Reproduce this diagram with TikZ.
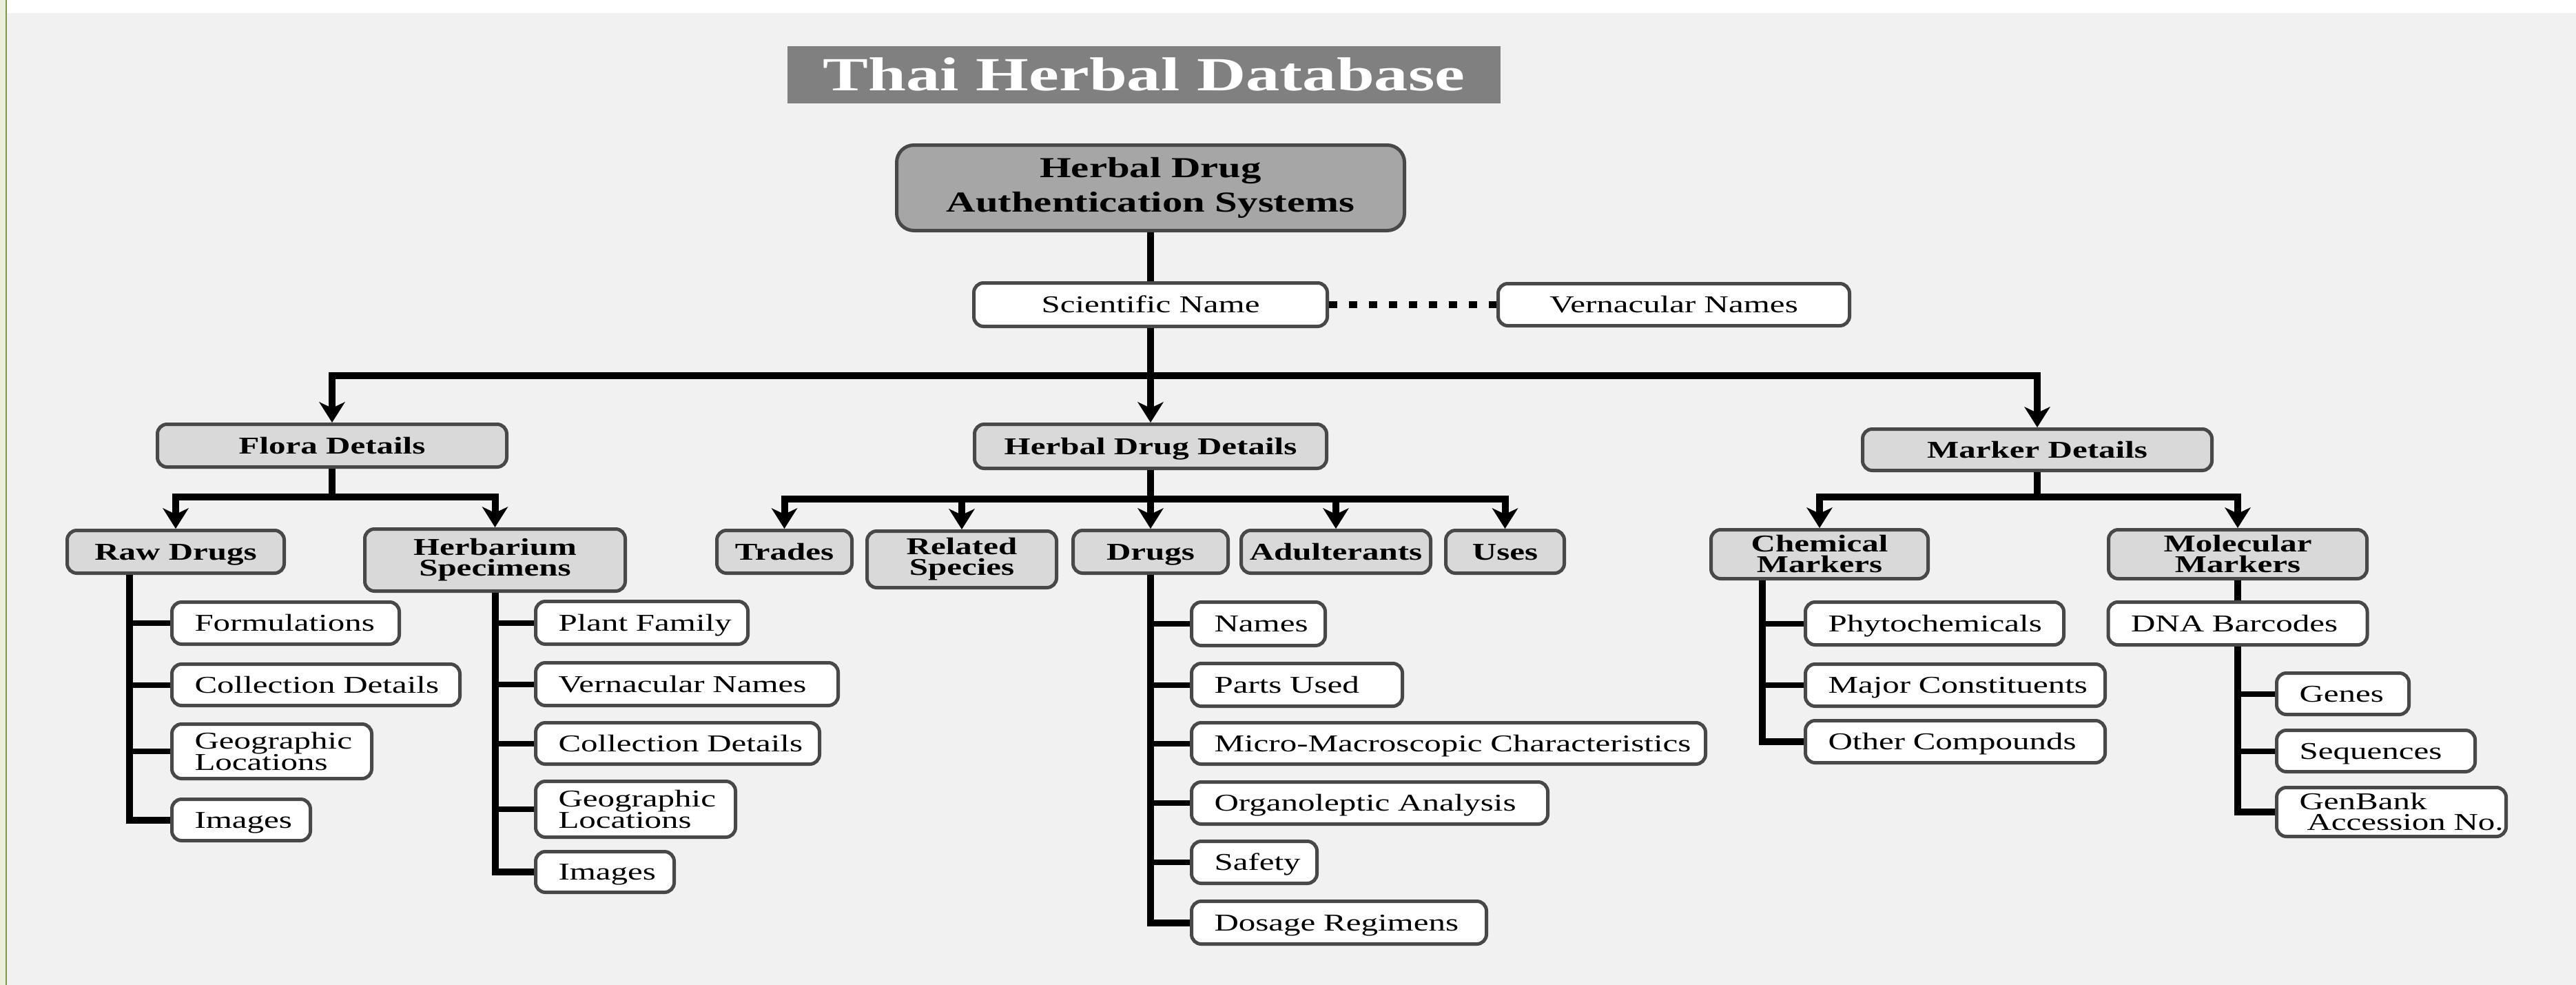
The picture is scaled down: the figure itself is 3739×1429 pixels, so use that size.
\documentclass[tikz,border=0pt]{standalone}
\usepackage{fontspec}
\setmainfont[FakeStretch=1.4]{Liberation Serif}
\newfontfamily\ttlfont[FakeStretch=1.43]{Liberation Serif}
\usetikzlibrary{arrows.meta}
\definecolor{bgc}{HTML}{F1F1F1}
\definecolor{bd}{HTML}{484848}
\definecolor{lg}{HTML}{D9D9D9}
\definecolor{rg}{HTML}{A6A6A6}
\definecolor{tg}{HTML}{808080}
\definecolor{gl}{HTML}{E9EFDC}
\definecolor{gd}{HTML}{7A9A44}
\tikzset{
  conn/.style={line width=10pt, black},
  stub/.style={line width=8pt, black},
  arr/.style={line width=10pt, black, -{Stealth[length=30pt,width=38pt,inset=9pt,line width=0pt]}},
  dotc/.style={line width=10pt, black, dash pattern=on 12pt off 17pt},
  box/.style={draw=bd, line width=5pt, rounded corners=14pt, inner sep=0pt, text=black},
  one/.style={text height=26pt, text depth=3pt},
  gbox/.style={box, fill=lg, font=\fontsize{35}{30}\selectfont\bfseries, align=center},
  wbox/.style={box, fill=white, font=\fontsize{35}{30}\selectfont, one},
  lf/.style={box, fill=white, font=\fontsize{35}{30}\selectfont, align=left, anchor=west, inner xsep=33pt, inner ysep=0pt},
}
\begin{document}
\begin{tikzpicture}[x=1pt,y=-1pt]
\useasboundingbox (0,0) rectangle (3739,1429);
\fill[bgc] (0,0) rectangle (3739,1429);
\fill[white] (10,0) rectangle (3739,19);
\fill[gl] (0,0) rectangle (8,1429);
\fill[gd] (8,0) rectangle (10,1429);

% title and root
\node[fill=tg, minimum width=1035pt, minimum height=83pt, inner sep=0pt, text=white,
  font=\ttlfont\fontsize{69}{69}\selectfont\bfseries, text height=48pt, text depth=3pt]
  (title) at (1660.5,108.5) {Thai Herbal Database};
\node[box, fill=rg, rounded corners=25pt, minimum width=737pt, minimum height=124pt, align=center,
  font=\fontsize{42}{50}\selectfont\bfseries] (root) at (1670,272.5) {Herbal Drug\\Authentication Systems};
\node[wbox, minimum width=513pt, minimum height=63pt] (sn) at (1670,442) {Scientific Name};
\node[wbox, minimum width=510pt, minimum height=61pt] (vn) at (2429.5,442) {Vernacular Names};

% level 1
\node[gbox, one, minimum width=507pt, minimum height=62pt] (fl) at (482,646.5) {Flora Details};
\node[gbox, one, minimum width=511pt, minimum height=64pt] (hd) at (1670,647.5) {Herbal Drug Details};
\node[gbox, one, minimum width=507pt, minimum height=60pt] (mk) at (2957,652.5) {Marker Details};

% level 2
\node[gbox, one, minimum width=315pt, minimum height=62pt] (rd) at (255,800.5) {Raw Drugs};
\node[gbox, minimum width=378pt, minimum height=90pt] (hs) at (718.5,812.5) {Herbarium\\Specimens};
\node[gbox, one, minimum width=196pt, minimum height=62pt] (tr) at (1138.5,800.5) {Trades};
\node[gbox, minimum width=275pt, minimum height=82pt] (rs) at (1396,811.5) {Related\\Species};
\node[gbox, one, minimum width=225pt, minimum height=62pt] (dr) at (1670,800.5) {Drugs};
\node[gbox, one, minimum width=275pt, minimum height=62pt] (ad) at (1939,800.5) {Adulterants};
\node[gbox, one, minimum width=172pt, minimum height=62pt] (us) at (2184.5,800.5) {Uses};
\node[gbox, minimum width=315pt, minimum height=71pt] (cm) at (2641,804) {Chemical\\Markers};
\node[gbox, minimum width=375pt, minimum height=71pt] (mm) at (3248,804) {Molecular\\Markers};

% raw drug leaves
\node[lf, one, text width=264pt, minimum height=61pt] (rf) at (247,904) {\mbox{Formulations}};
\node[lf, one, text width=352pt, minimum height=60pt] (rc) at (247,993.5) {\mbox{Collection Details}};
\node[lf, text width=224pt, minimum height=79pt] (rg) at (247,1090) {\mbox{Geographic}\\\mbox{Locations}};
\node[lf, one, text width=135pt, minimum height=60pt] (ri) at (247,1189.5) {\mbox{Images}};

% herbarium leaves
\node[lf, one, text width=242pt, minimum height=62pt] (hp) at (775,903.5) {\mbox{Plant Family}};
\node[lf, one, text width=373pt, minimum height=62pt] (hv) at (775,992.5) {\mbox{Vernacular Names}};
\node[lf, one, text width=346pt, minimum height=60pt] (hc) at (775,1078.5) {\mbox{Collection Details}};
\node[lf, text width=224pt, minimum height=81pt] (hg) at (775,1174) {\mbox{Geographic}\\\mbox{Locations}};
\node[lf, one, text width=135pt, minimum height=59pt] (hi) at (775,1265) {\mbox{Images}};

% drug leaves
\node[lf, one, text width=128pt, minimum height=63pt] (dn) at (1727,905) {\mbox{Names}};
\node[lf, one, text width=240pt, minimum height=62pt] (dp) at (1727,993.5) {\mbox{Parts Used}};
\node[lf, one, text width=680pt, minimum height=60pt] (dm) at (1727,1078.5) {\mbox{Micro-Macroscopic Characteristics}};
\node[lf, one, text width=451pt, minimum height=61pt] (do) at (1727,1165) {\mbox{Organoleptic Analysis}};
\node[lf, one, text width=116pt, minimum height=61pt] (ds) at (1727,1251) {\mbox{Safety}};
\node[lf, one, text width=362pt, minimum height=62pt] (dd) at (1727,1338.5) {\mbox{Dosage Regimens}};

% chemical leaves
\node[lf, one, text width=309pt, minimum height=62pt] (cp) at (2618,904.5) {\mbox{Phytochemicals}};
\node[lf, one, text width=369pt, minimum height=61pt] (cc) at (2618,994) {\mbox{Major Constituents}};
\node[lf, one, text width=369pt, minimum height=61pt] (co) at (2618,1076) {\mbox{Other Compounds}};

% molecular leaves
\node[lf, one, text width=310pt, minimum height=62pt] (dna) at (3057.5,904.5) {\mbox{DNA Barcodes}};
\node[lf, one, text width=126pt, minimum height=60pt] (mg) at (3302,1006.5) {\mbox{Genes}};
\node[lf, one, text width=222pt, minimum height=60pt] (ms) at (3302,1089.5) {\mbox{Sequences}};
\node[lf, text width=267pt, minimum height=71pt] (mb) at (3302,1178) {\mbox{GenBank}\\\mbox{\hspace*{11pt}Accession No.}};

% helper coordinates
\coordinate (b1) at (0,545);
\coordinate (b2) at (0,721);
\coordinate (b3) at (0,724);
\coordinate (b4) at (0,721);
\coordinate (rdx) at (188,0);
\coordinate (cmx) at (2558,0);

% top connectors
\draw[conn] (root.south) -- (sn.north);
\draw[dotc] (sn.east) -- (vn.west);
\draw[arr] (sn.south) -- (hd.north);
\draw[arr] (sn.south |- b1) -| (fl.north);
\draw[arr] (sn.south |- b1) -| (mk.north);

% flora
\draw[conn] (fl.south) -- (fl.south |- b2);
\draw[arr] (fl.south |- b2) -| (rd.north);
\draw[arr] (fl.south |- b2) -| (hs.north);

% herbal drug details
\draw[arr] (hd.south) -- (dr.north);
\draw[arr] (hd.south |- b3) -| (tr.north);
\draw[arr] (hd.south |- b3) -| (rs.north);
\draw[arr] (hd.south |- b3) -| (ad.north);
\draw[arr] (hd.south |- b3) -| (us.north);

% marker details
\draw[conn] (mk.south) -- (mk.south |- b4);
\draw[arr] (mk.south |- b4) -| (cm.north);
\draw[arr] (mk.south |- b4) -| (mm.north);

% raw drug trunk
\draw[conn] (rd.south -| rdx) |- (ri.west);
\draw[stub] (rf.west) -- (rf.west -| rdx);
\draw[stub] (rc.west) -- (rc.west -| rdx);
\draw[stub] (rg.west) -- (rg.west -| rdx);

% herbarium trunk
\draw[conn] (hs.south) |- (hi.west);
\draw[stub] (hp.west) -- (hp.west -| hs.south);
\draw[stub] (hv.west) -- (hv.west -| hs.south);
\draw[stub] (hc.west) -- (hc.west -| hs.south);
\draw[stub] (hg.west) -- (hg.west -| hs.south);

% drugs trunk
\draw[conn] (dr.south) |- (dd.west);
\draw[stub] (dn.west) -- (dn.west -| dr.south);
\draw[stub] (dp.west) -- (dp.west -| dr.south);
\draw[stub] (dm.west) -- (dm.west -| dr.south);
\draw[stub] (do.west) -- (do.west -| dr.south);
\draw[stub] (ds.west) -- (ds.west -| dr.south);

% chemical trunk
\draw[conn] (cm.south -| cmx) |- (co.west);
\draw[stub] (cp.west) -- (cp.west -| cmx);
\draw[stub] (cc.west) -- (cc.west -| cmx);

% molecular
\draw[conn] (mm.south) -- (dna.north);
\draw[conn] (dna.south) |- (mb.west);
\draw[stub] (mg.west) -- (mg.west -| dna.south);
\draw[stub] (ms.west) -- (ms.west -| dna.south);
\end{tikzpicture}
\end{document}
